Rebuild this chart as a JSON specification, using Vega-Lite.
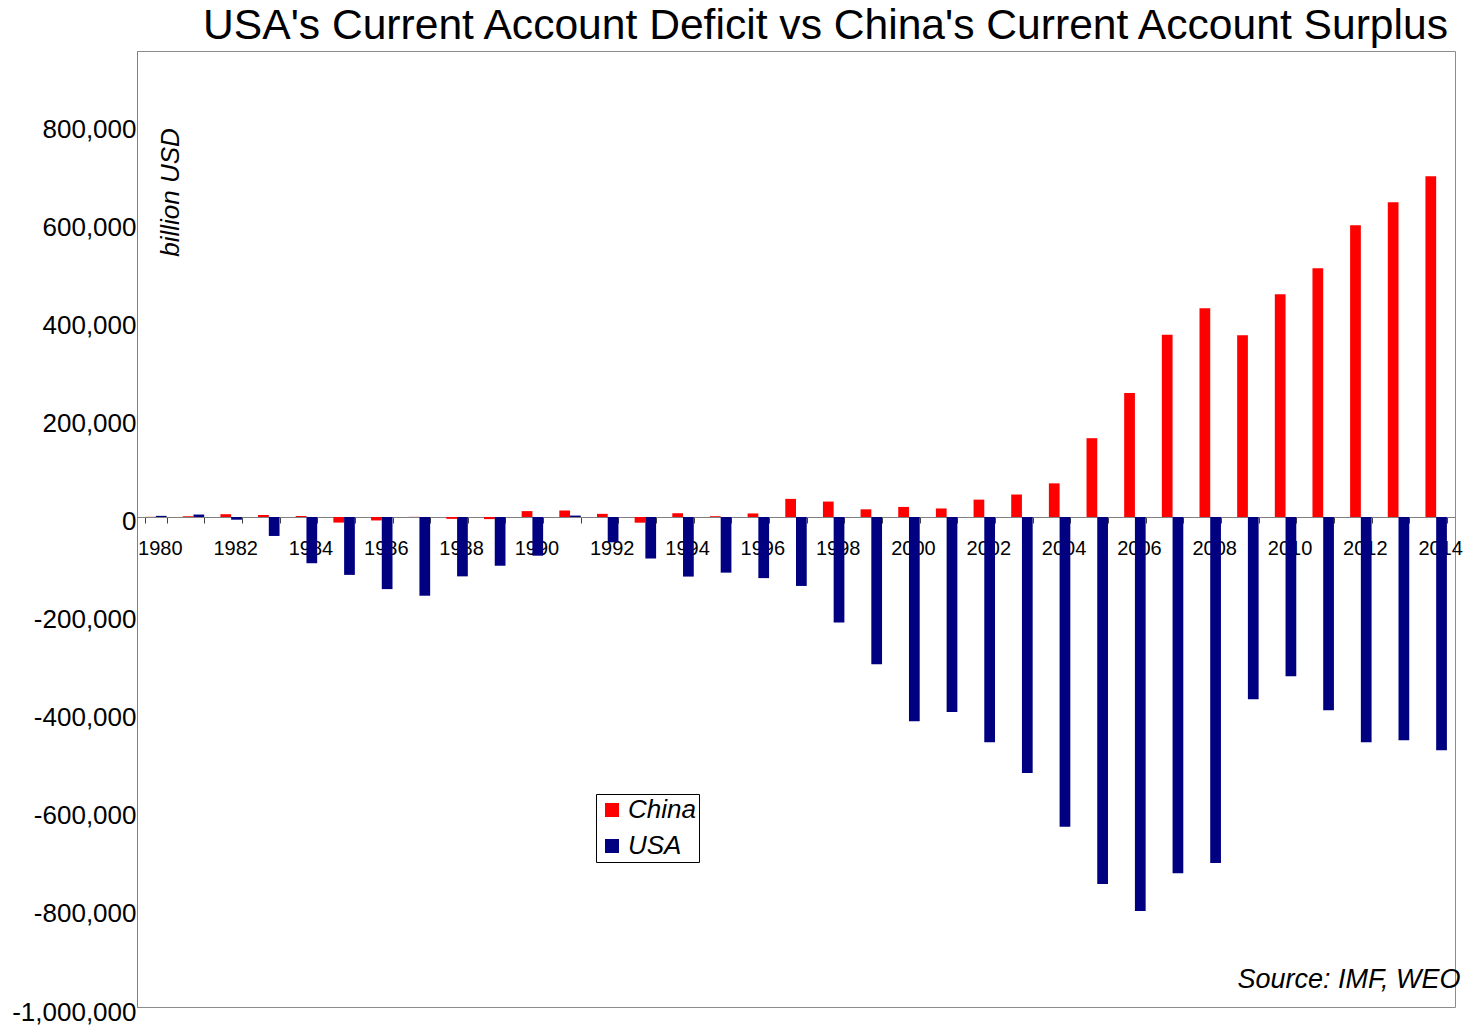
{
  "$schema": "https://vega.github.io/schema/vega-lite/v6.json",
  "autosize": "none",
  "width": 1318,
  "height": 956,
  "padding": {"left": 137, "top": 51, "right": 17, "bottom": 18},
  "background": "white",
  "title": {
    "text": "USA's Current Account Deficit vs China's Current Account Surplus",
    "font": "Liberation Sans",
    "fontSize": 42.6,
    "fontWeight": "normal",
    "color": "#000000",
    "anchor": "end",
    "frame": "group",
    "dx": -7,
    "offset": 3
  },
  "config": {
    "view": {"stroke": "#8c8c8c", "strokeWidth": 1},
    "font": "Liberation Sans"
  },
  "data": {
    "values": [
      {"year": "1980", "country": "China", "value": 300},
      {"year": "1981", "country": "China", "value": 1500},
      {"year": "1982", "country": "China", "value": 5674},
      {"year": "1983", "country": "China", "value": 4240},
      {"year": "1984", "country": "China", "value": 2030},
      {"year": "1985", "country": "China", "value": -11417},
      {"year": "1986", "country": "China", "value": -7034},
      {"year": "1987", "country": "China", "value": 300},
      {"year": "1988", "country": "China", "value": -3802},
      {"year": "1989", "country": "China", "value": -4317},
      {"year": "1990", "country": "China", "value": 11997},
      {"year": "1991", "country": "China", "value": 13272},
      {"year": "1992", "country": "China", "value": 6401},
      {"year": "1993", "country": "China", "value": -11609},
      {"year": "1994", "country": "China", "value": 7657},
      {"year": "1995", "country": "China", "value": 1618},
      {"year": "1996", "country": "China", "value": 7243},
      {"year": "1997", "country": "China", "value": 36963},
      {"year": "1998", "country": "China", "value": 31472},
      {"year": "1999", "country": "China", "value": 15667},
      {"year": "2000", "country": "China", "value": 20518},
      {"year": "2001", "country": "China", "value": 17401},
      {"year": "2002", "country": "China", "value": 35422},
      {"year": "2003", "country": "China", "value": 45875},
      {"year": "2004", "country": "China", "value": 68659},
      {"year": "2005", "country": "China", "value": 160818},
      {"year": "2006", "country": "China", "value": 253268},
      {"year": "2007", "country": "China", "value": 371833},
      {"year": "2008", "country": "China", "value": 426107},
      {"year": "2009", "country": "China", "value": 371000},
      {"year": "2010", "country": "China", "value": 454500},
      {"year": "2011", "country": "China", "value": 507600},
      {"year": "2012", "country": "China", "value": 595300},
      {"year": "2013", "country": "China", "value": 642200},
      {"year": "2014", "country": "China", "value": 695300},
      {"year": "1980", "country": "USA", "value": 2316},
      {"year": "1981", "country": "USA", "value": 5030},
      {"year": "1982", "country": "USA", "value": -5536},
      {"year": "1983", "country": "USA", "value": -38691},
      {"year": "1984", "country": "USA", "value": -94344},
      {"year": "1985", "country": "USA", "value": -118155},
      {"year": "1986", "country": "USA", "value": -147177},
      {"year": "1987", "country": "USA", "value": -160655},
      {"year": "1988", "country": "USA", "value": -121153},
      {"year": "1989", "country": "USA", "value": -99486},
      {"year": "1990", "country": "USA", "value": -78968},
      {"year": "1991", "country": "USA", "value": 2897},
      {"year": "1992", "country": "USA", "value": -51613},
      {"year": "1993", "country": "USA", "value": -84806},
      {"year": "1994", "country": "USA", "value": -121612},
      {"year": "1995", "country": "USA", "value": -113567},
      {"year": "1996", "country": "USA", "value": -124764},
      {"year": "1997", "country": "USA", "value": -140726},
      {"year": "1998", "country": "USA", "value": -215062},
      {"year": "1999", "country": "USA", "value": -300600},
      {"year": "2000", "country": "USA", "value": -417000},
      {"year": "2001", "country": "USA", "value": -398000},
      {"year": "2002", "country": "USA", "value": -459600},
      {"year": "2003", "country": "USA", "value": -522500},
      {"year": "2004", "country": "USA", "value": -632000},
      {"year": "2005", "country": "USA", "value": -749000},
      {"year": "2006", "country": "USA", "value": -804000},
      {"year": "2007", "country": "USA", "value": -727000},
      {"year": "2008", "country": "USA", "value": -706000},
      {"year": "2009", "country": "USA", "value": -372000},
      {"year": "2010", "country": "USA", "value": -325000},
      {"year": "2011", "country": "USA", "value": -394500},
      {"year": "2012", "country": "USA", "value": -459800},
      {"year": "2013", "country": "USA", "value": -455700},
      {"year": "2014", "country": "USA", "value": -476000}
    ]
  },
  "mark": {"type": "bar", "strokeWidth": 0},
  "encoding": {
    "x": {
      "field": "year",
      "type": "ordinal",
      "scale": {"paddingInner": 0.43, "paddingOuter": 0.215},
      "axis": {
        "orient": "bottom",
        "offset": -490,
        "domainColor": "#808080",
        "tickColor": "#404040",
        "tickSize": 6,
        "tickBand": "extent",
        "labelAngle": 0,
        "labelFont": "Liberation Sans",
        "labelFontSize": 20,
        "labelColor": "#000000",
        "labelPadding": 15,
        "labelOffset": 4,
        "labelOverlap": false,
        "labelExpr": "toNumber(datum.value) % 2 == 0 ? datum.label : ''",
        "grid": false,
        "title": "Source: IMF, WEO",
        "titleX": 1323,
        "titleY": 470,
        "titleAlign": "right",
        "titleAngle": 0,
        "titleBaseline": "alphabetic",
        "titleFont": "Liberation Sans",
        "titleFontSize": 27,
        "titleFontStyle": "italic",
        "titleFontWeight": "normal",
        "titleColor": "#000000"
      }
    },
    "xOffset": {
      "field": "country",
      "type": "nominal",
      "scale": {"domain": ["China", "USA"], "paddingInner": 0, "paddingOuter": 0}
    },
    "y": {
      "field": "value",
      "type": "quantitative",
      "scale": {"domain": [-1000000, 951000], "nice": false, "zero": false},
      "axis": {
        "values": [-1000000, -800000, -600000, -400000, -200000, 0, 200000, 400000, 600000, 800000],
        "labelExpr": "replace(format(datum.value, ',.0f'), '−', '-')",
        "grid": false,
        "ticks": false,
        "domainColor": "#808080",
        "labelFont": "Liberation Sans",
        "labelFontSize": 26,
        "labelColor": "#000000",
        "labelPadding": 1,
        "labelOffset": 5,
        "labelOverlap": false,
        "title": "billion USD",
        "titleX": 41,
        "titleY": 141,
        "titleAngle": -90,
        "titleAlign": "center",
        "titleBaseline": "alphabetic",
        "titleFont": "Liberation Sans",
        "titleFontSize": 26,
        "titleFontStyle": "italic",
        "titleFontWeight": "normal",
        "titleColor": "#000000"
      }
    },
    "color": {
      "field": "country",
      "type": "nominal",
      "scale": {"domain": ["China", "USA"], "range": ["#FF0000", "#000080"]},
      "legend": {
        "orient": "none",
        "legendX": 459,
        "legendY": 743,
        "title": null,
        "strokeColor": "#000000",
        "fillColor": "#FFFFFF",
        "padding": 3,
        "symbolOffset": 0,
        "symbolType": "square",
        "symbolSize": 196,
        "symbolStrokeWidth": 0,
        "labelFont": "Liberation Sans",
        "labelFontSize": 26,
        "labelFontStyle": "italic",
        "labelColor": "#000000",
        "labelOffset": 3,
        "rowPadding": 10
      }
    }
  }
}
